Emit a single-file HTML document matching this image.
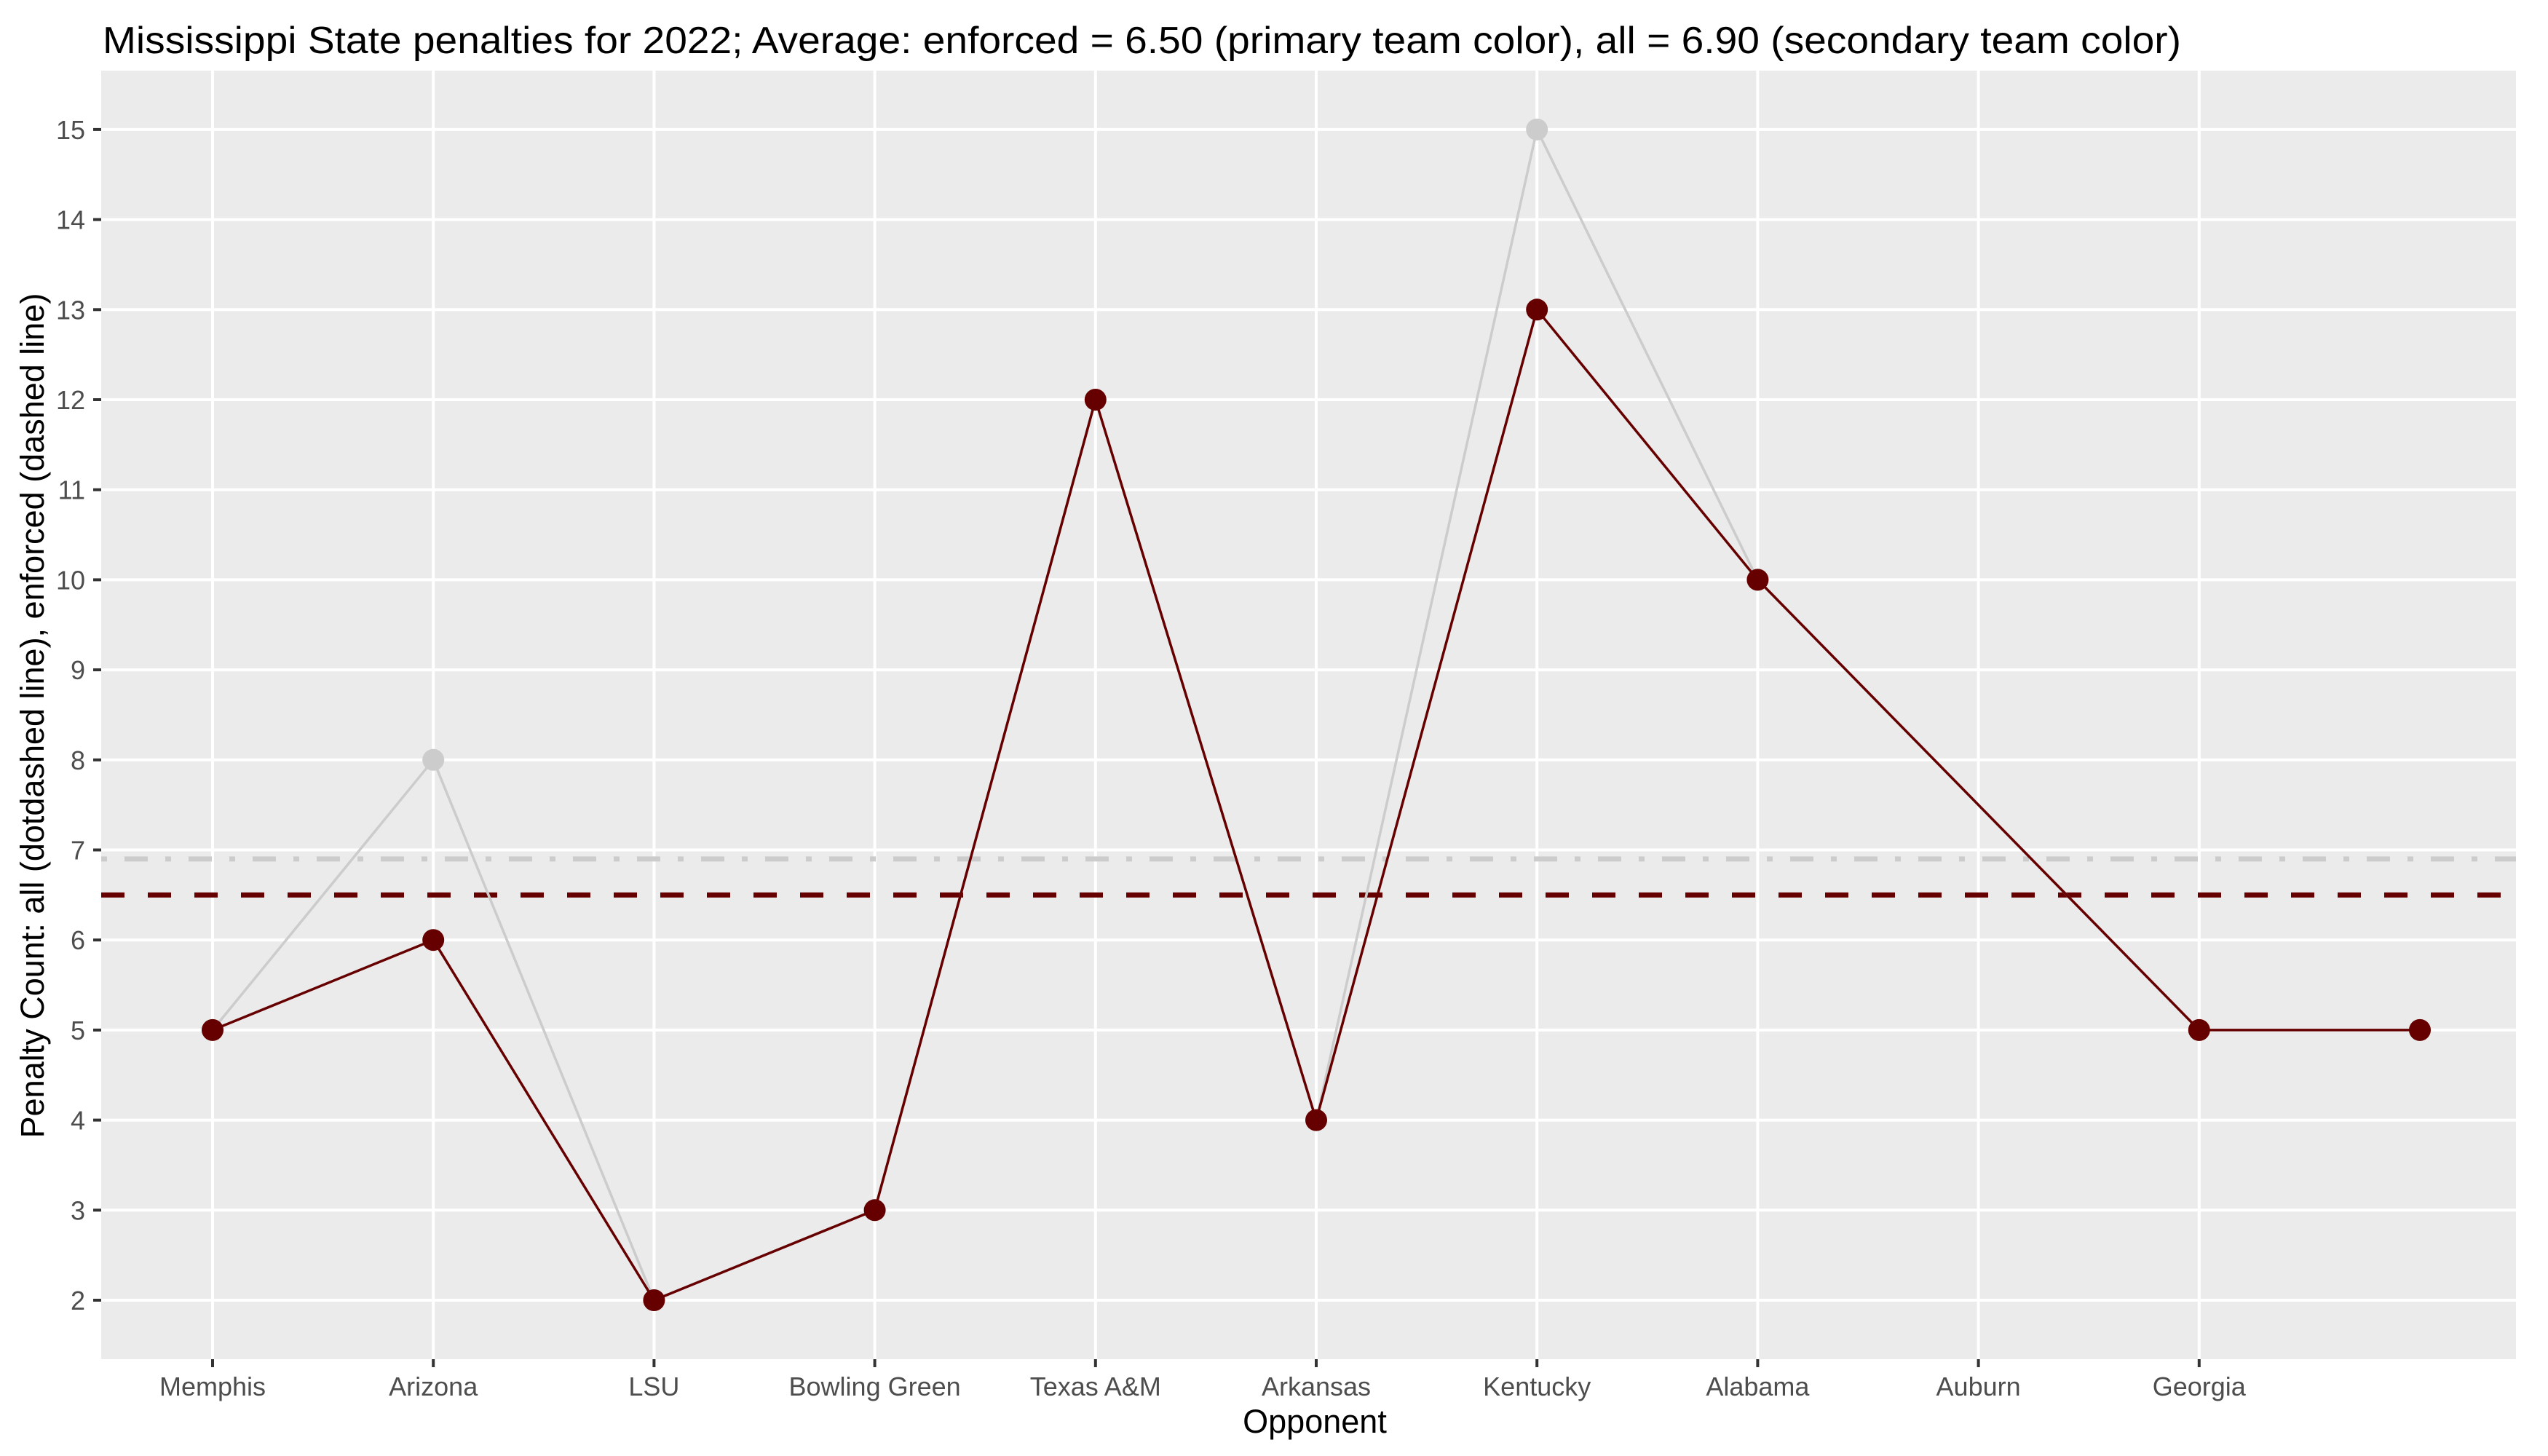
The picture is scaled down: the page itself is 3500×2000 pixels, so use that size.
<!DOCTYPE html>
<html><head><meta charset="utf-8"><style>html,body{margin:0;padding:0;background:#fff}svg{display:block}text{font-family:"Liberation Sans",Arial,sans-serif}</style></head>
<body>
<svg id="chart" width="3500" height="2000" viewBox="0 0 3500 2000" xmlns="http://www.w3.org/2000/svg">
<text x="141" y="73" font-size="52" fill="#000" textLength="2855" lengthAdjust="spacingAndGlyphs">Mississippi State penalties for 2022; Average: enforced = 6.50 (primary team color), all = 6.90 (secondary team color)</text>
<rect x="139" y="97" width="3317" height="1770" fill="#ebebeb"/>
<g id="grid"></g>
<g id="refs"></g>
<g id="series"></g>
<g id="axes"></g>
<text x="1806" y="1968" font-size="45" text-anchor="middle" fill="#000">Opponent</text>
<text transform="translate(60,983) rotate(-90)" font-size="45" text-anchor="middle" fill="#000">Penalty Count: all (dotdashed line), enforced (dashed line)</text>
</svg>
<script>
const categories = ["Memphis","Arizona","LSU","Bowling Green","Texas A&M","Arkansas","Kentucky","Alabama","Auburn","Georgia",""];
const allValues = [5,8,2,3,12,4,15,10,null,5,5];
const enforcedValues = [5,6,2,3,12,4,13,10,null,5,5];
const yTicks = [2,3,4,5,6,7,8,9,10,11,12,13,14,15];
const avgAll = 6.9;
const avgEnforced = 6.5;

const NS = "http://www.w3.org/2000/svg";
const X0 = 292, XSTEP = 303.2;
function xScale(i){ return X0 + i*XSTEP; }
function yScale(v){ return 1786 - (v-2)*123.7; }
function mk(tag, attrs, parent){
  const e = document.createElementNS(NS, tag);
  for (const k in attrs) e.setAttribute(k, attrs[k]);
  parent.appendChild(e);
  return e;
}
const grid = document.getElementById('grid');
const axes = document.getElementById('axes');
const refs = document.getElementById('refs');
const series = document.getElementById('series');

yTicks.forEach(t => {
  const y = yScale(t);
  const g = mk('line', {x1:139, x2:3456, y1:y, y2:y, stroke:'#fff', 'stroke-width':4}, grid);
  
  
  const tk = mk('line', {x1:128, x2:139, y1:y, y2:y, stroke:'#333', 'stroke-width':4}, axes);
  
  
  const tx = mk('text', {x:117, y:y+13, 'font-size':36, fill:'#4d4d4d', 'text-anchor':'end'}, axes);
  tx.textContent = t;
  
  
});
categories.forEach((c, i) => {
  if (c === "") return;
  const x = xScale(i);
  const g = mk('line', {x1:x, x2:x, y1:97, y2:1867, stroke:'#fff', 'stroke-width':4}, grid);
  
  
  const tk = mk('line', {x1:x, x2:x, y1:1867, y2:1878, stroke:'#333', 'stroke-width':4}, axes);
  
  
  const tx = mk('text', {x:x, y:1917, 'font-size':36, fill:'#4d4d4d', 'text-anchor':'middle'}, axes);
  tx.textContent = c;
  
  
});

const la = mk('line', {x1:139, x2:3456, y1:yScale(avgAll), y2:yScale(avgAll), stroke:'#cccccc', 'stroke-width':7, 'stroke-dasharray':'8 24 32 24'}, refs);


const le = mk('line', {x1:139, x2:3456, y1:yScale(avgEnforced), y2:yScale(avgEnforced), stroke:'#660000', 'stroke-width':7, 'stroke-dasharray':'32 32'}, refs);



function drawSeries(vals, color, name){
  const pts = [];
  vals.forEach((v, i) => { if (v !== null) pts.push([xScale(i), yScale(v)]); });
  const p = mk('polyline', {points: pts.map(p => p.join(',')).join(' '), fill:'none', stroke:color, 'stroke-width':3.5, 'stroke-linejoin':'round'}, series);
  
  
  pts.forEach(pt => {
    const c = mk('circle', {cx:pt[0], cy:pt[1], r:15, fill:color}, series);
    
    
  });
}
drawSeries(allValues, '#cccccc', 'all-penalties');
drawSeries(enforcedValues, '#660000', 'enforced-penalties');
</script>
</body></html>
